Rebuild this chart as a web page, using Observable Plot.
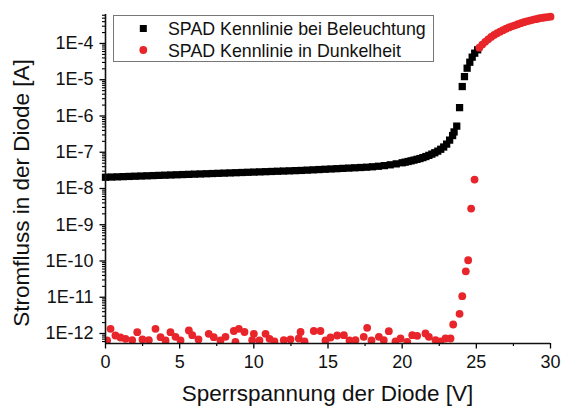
<!DOCTYPE html>
<html>
<head>
<meta charset="utf-8">
<script src="https://cdn.jsdelivr.net/npm/d3@7"></script>
<script src="https://cdn.jsdelivr.net/npm/@observablehq/plot@0.6"></script>
<style>
  html, body { margin: 0; padding: 0; background: #fff; }
</style>
</head>
<body>
<script>
// ---- Data: SPAD characteristic under illumination (black squares) ----
const litVoltage = [0,0.4,0.8,1.2,1.6,2.0,2.4,2.8,3.2,3.6,4.0,4.4,4.8,5.2,5.6,6.0,6.4,6.8,7.2,7.6,8.0,8.4,8.8,9.2,9.6,10.0,10.4,10.8,11.2,11.6,12.0,12.4,12.8,13.2,13.6,14.0,14.4,14.8,15.2,15.6,16.0,16.4,16.8,17.2,17.6,18.0,18.4,18.8,19.2,19.6,20.0,20.2,20.4,20.6,20.8,21.0,21.2,21.4,21.6,21.8,22.0,22.2,22.4,22.6,22.8,23.0,23.2,23.4,23.5,23.68,23.87,24.05,24.2,24.38,24.56,24.72,24.89,25.09];
const litCurrent = [2.042e-8,2.069e-8,2.096e-8,2.124e-8,2.152e-8,2.181e-8,2.209e-8,2.239e-8,2.268e-8,2.298e-8,2.328e-8,2.359e-8,2.390e-8,2.422e-8,2.454e-8,2.486e-8,2.519e-8,2.552e-8,2.586e-8,2.620e-8,2.655e-8,2.690e-8,2.725e-8,2.761e-8,2.798e-8,2.835e-8,2.872e-8,2.910e-8,2.949e-8,2.988e-8,3.027e-8,3.067e-8,3.108e-8,3.148e-8,3.207e-8,3.268e-8,3.329e-8,3.392e-8,3.455e-8,3.520e-8,3.586e-8,3.654e-8,3.723e-8,3.792e-8,3.864e-8,3.972e-8,4.106e-8,4.279e-8,4.501e-8,4.778e-8,5.121e-8,5.325e-8,5.550e-8,5.798e-8,6.071e-8,6.371e-8,6.702e-8,7.115e-8,7.605e-8,8.187e-8,8.877e-8,9.691e-8,1.072e-7,1.209e-7,1.394e-7,1.676e-7,2.160e-7,2.884e-7,3.63e-7,5.25e-7,1.70e-6,6.49e-6,1.22e-5,2.08e-5,3.04e-5,4.19e-5,5.40e-5,6.70e-5];

// ---- Data: SPAD characteristic in darkness (red circles) ----
// noise floor around 1E-12
const darkNoiseVoltage = [0.11,0.34,0.67,1.01,1.35,1.80,2.14,2.49,2.92,3.37,3.71,4.05,4.38,4.72,5.06,5.62,5.85,6.27,6.96,7.30,7.75,8.09,8.65,8.76,8.99,9.37,9.89,10.0,10.38,10.79,11.06,11.39,12.02,12.47,13.03,13.15,13.42,14.04,14.49,14.83,15.17,15.62,16.07,16.45,16.85,17.41,17.64,17.93,18.43,18.76,19.10,19.55,19.89,20.34,20.68,21.01,21.57,21.80,22.25,22.58,22.92,23.26];
const darkNoiseCurrent = [6.41e-13,1.349e-12,8.81e-13,7.76e-13,7.14e-13,6.53e-13,1.086e-12,6.83e-13,6.53e-13,1.349e-12,7.91e-13,6.41e-13,1.086e-12,8.11e-13,6.41e-13,1.21e-12,8.98e-13,6.83e-13,9.81e-13,7.91e-13,6.41e-13,8.11e-13,1.172e-12,5.90e-13,1.349e-12,1.10e-12,6.53e-13,9.81e-13,6.41e-13,9.81e-13,7.14e-13,6.01e-13,6.53e-13,6.83e-13,7.28e-13,1.10e-12,6.01e-13,1.172e-12,1.172e-12,6.41e-13,7.76e-13,8.81e-13,8.98e-13,6.41e-13,6.53e-13,8.11e-13,1.436e-12,6.41e-13,8.11e-13,6.53e-13,1.158e-12,6.01e-13,7.28e-13,5.90e-13,8.98e-13,8.64e-13,1.0e-12,8.11e-13,6.53e-13,6.01e-13,7.28e-13,7.28e-13];
// breakdown and avalanche region
const darkVoltage = [23.44,23.87,24.05,24.29,24.45,24.65,24.88,25.2,25.4,25.6,25.8,26.0,26.2,26.4,26.6,26.8,27.0,27.2,27.4,27.6,27.8,28.0,28.2,28.4,28.6,28.8,29.0,29.2,29.4,29.6,29.8,30.0];
const darkCurrent = [1.77e-12,3.5e-12,1.07e-11,5.2e-11,1.05e-10,2.8e-9,1.76e-8,7.67e-5,9.33e-5,1.109e-4,1.303e-4,1.521e-4,1.718e-4,1.914e-4,2.123e-4,2.333e-4,2.547e-4,2.767e-4,2.972e-4,3.177e-4,3.388e-4,3.631e-4,3.873e-4,4.074e-4,4.285e-4,4.487e-4,4.677e-4,4.887e-4,5.070e-4,5.212e-4,5.346e-4,5.470e-4];

// ---- Axes ----
const xDomain = [0, 30];
const yDomain = [5.3e-13, 6.3e-4];
const xMajorTicks = [0, 5, 10, 15, 20, 25, 30];
const xMinorTicks = [2.5, 7.5, 12.5, 17.5, 22.5, 27.5];
const yMajorTicks = [1e-12, 1e-11, 1e-10, 1e-9, 1e-8, 1e-7, 1e-6, 1e-5, 1e-4];
const yMinorTicks = [];
for (let e = -13; e <= -4; e++) for (let k = 2; k <= 9; k++) {
  const v = k * Math.pow(10, e);
  if (v >= yDomain[0] && v <= yDomain[1]) yMinorTicks.push(v);
}
const xTitle = "Sperrspannung der Diode [V]";
const yTitle = "Stromfluss in der Diode [A]";
const legendLabels = ["SPAD Kennlinie bei Beleuchtung", "SPAD Kennlinie in Dunkelheit"];

const RED = "#e8252a";
const FONT = "'Liberation Sans', Arial, Helvetica, sans-serif";

const lit = litVoltage.map((v, i) => ({v, i: litCurrent[i]}));
const darkNoise = darkNoiseVoltage.map((v, i) => ({v, i: darkNoiseCurrent[i]}));
const dark = darkVoltage.map((v, i) => ({v, i: darkCurrent[i]}));

const W = 563, H = 412;
const chart = Plot.plot({
  width: W, height: H,
  marginLeft: 105, marginRight: 13, marginTop: 14, marginBottom: 69,
  style: {fontFamily: FONT, background: "#fff", overflow: "visible"},
  x: {domain: xDomain},
  y: {type: "log", domain: yDomain},
  marks: [
    Plot.dot(lit, {x: "v", y: "i", symbol: "square", r: 4.1, fill: "#000"}),
    Plot.dot(darkNoise, {x: "v", y: "i", r: 3.9, fill: RED, clip: true}),
    Plot.dot(dark, {x: "v", y: "i", r: 3.9, fill: RED}),
    Plot.axisX({ticks: xMajorTicks, tickSize: 5.5, tickPadding: 6.5, fontSize: 18, strokeWidth: 1.3, label: null, tickFormat: d => String(d), fill: "#111"}),
    Plot.axisX({ticks: xMinorTicks, tickSize: 3, strokeWidth: 1.2, label: null, tickFormat: () => ""}),
    Plot.axisY({ticks: yMajorTicks, tickSize: 5.5, tickPadding: 6.5, fontSize: 18, strokeWidth: 1.3, label: null, tickFormat: d => "1E" + Math.round(Math.log10(d)), fill: "#111"}),
    Plot.axisY({ticks: yMinorTicks, tickSize: 3, strokeWidth: 1.1, label: null, tickFormat: () => ""}),
    Plot.ruleX([xDomain[0]], {stroke: "#111", strokeWidth: 1.6}),
    Plot.ruleY([yDomain[0]], {stroke: "#111", strokeWidth: 1.6})
  ]
});

const svg = d3.select(chart);
// axis titles
svg.append("text")
  .attr("x", 327.5).attr("y", 401)
  .attr("text-anchor", "middle")
  .attr("font-family", FONT).attr("font-size", 22.5).attr("fill", "#111")
  .text(xTitle);
svg.append("text")
  .attr("transform", "translate(29,193) rotate(-90)")
  .attr("text-anchor", "middle")
  .attr("font-family", FONT).attr("font-size", 22.5).attr("fill", "#111")
  .text(yTitle);

// legend box
const lg = svg.append("g").attr("text-anchor", "start");
lg.append("rect").attr("x", 113.5).attr("y", 15.5).attr("width", 320).attr("height", 46)
  .attr("fill", "#fff").attr("stroke", "#777").attr("stroke-width", 1);
lg.append("rect").attr("x", 143.3 - 3.5).attr("y", 28.5 - 3.5).attr("width", 7).attr("height", 7).attr("fill", "#000");
lg.append("circle").attr("cx", 143.3).attr("cy", 50).attr("r", 3.9).attr("fill", RED);
lg.append("text").attr("x", 168).attr("y", 35).attr("text-anchor", "start").attr("font-family", FONT).attr("font-size", 17.8).attr("fill", "#111").text(legendLabels[0]);
lg.append("text").attr("x", 168).attr("y", 56.5).attr("text-anchor", "start").attr("font-family", FONT).attr("font-size", 17.8).attr("fill", "#111").text(legendLabels[1]);

document.body.appendChild(chart);
</script>
</body>
</html>
